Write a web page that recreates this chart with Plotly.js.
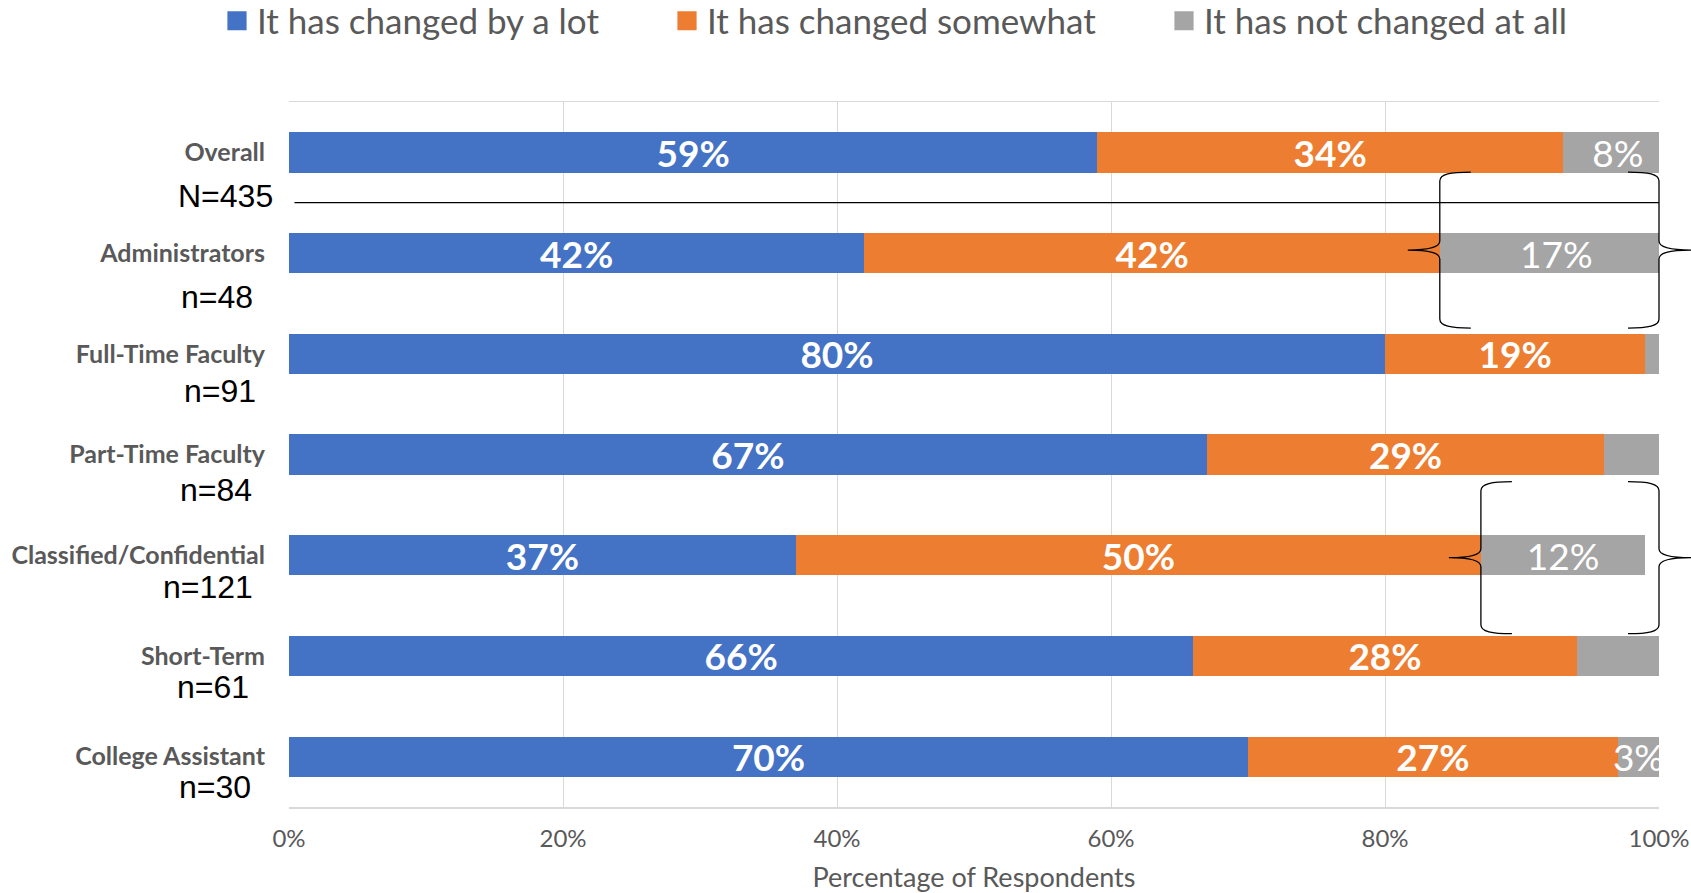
<!DOCTYPE html>
<html><head><meta charset="utf-8">
<script src="https://cdn.plot.ly/plotly-3.0.1.min.js"></script>
<style>html,body{margin:0;padding:0;background:#fff;overflow:hidden;} #chart{width:1691px;height:893px;}</style>
</head><body><div id="chart"></div>
<script>
// ---------------- data ----------------
const categories = ['Overall','Administrators','Full-Time Faculty','Part-Time Faculty','Classified/Confidential','Short-Term','College Assistant'];
const sampleSizes = ['N=435','n=48','n=91','n=84','n=121','n=61','n=30'];
const seriesNames = ['It has changed by a lot','It has changed somewhat','It has not changed at all'];
const changedALot = [59,42,80,67,37,66,70];
const changedSomewhat = [34,42,19,29,50,28,27];
const notChanged = [8,17,1,4,12,6,3];
const showNotChangedLabel = [true,true,false,false,true,false,true];
const bracketedRows = ['Administrators','Classified/Confidential'];
const xTickVals = [0,20,40,60,80,100];
const xTickText = ['0%','20%','40%','60%','80%','100%'];

// ---------------- style ----------------
const FONT = 'Lato, "Open Sans", sans-serif';
const colors = ['#4472C4','#ED7D31','#A5A5A5'];
const W = 1691, H = 893;
const M = {l:289, r:32, t:102, b:86};
const nLabelRight = [275,255,258,254,255,251,253];
const nLabelDrop = [44,44,37,35,32,31,30];
const legendX = [217,667,1164];
const legendNames = ['legend','legend2','legend3'];
const braceLift = [3,-2.5];
const braceHalf = [78,76];

const pct = v => v + '%';
function barTrace(k, vals, texts, weight) {
  return {
    type:'bar', orientation:'h', name:seriesNames[k], y:categories, x:vals, legend:legendNames[k],
    marker:{color:colors[k], line:{width:0}},
    text:texts, texttemplate:'%{text}', textposition:'inside', insidetextanchor:'middle',
    constraintext:'none', cliponaxis:true,
    textfont:{family:FONT, size:37, color:'#ffffff', weight:weight},
    hoverinfo:'skip'
  };
}
const traces = [
  barTrace(0, changedALot, changedALot.map(pct), 700),
  barTrace(1, changedSomewhat, changedSomewhat.map(pct), 700),
  barTrace(2, notChanged, notChanged.map((v,i)=> showNotChangedLabel[i] ? pct(v) : ''), 400)
];

const annotations = sampleSizes.map((s,i)=>({
  text:s, xref:'paper', x:0, xanchor:'right', xshift:nLabelRight[i]-M.l,
  yref:'y', y:categories[i], yanchor:'middle', yshift:-nLabelDrop[i],
  showarrow:false, font:{family:'"Liberation Sans", Arial, sans-serif', size:32, color:'#000000'}
}));

function bracePath(s, h, L, T, dy) {
  const y = v => v + dy;
  return `M ${-s*L},${y(h)} C ${-s*L*0.35},${y(h)} 0,${y(h-2)} 0,${y(h-9)} L 0,${y(9)} C 0,${y(3)} ${s*T*0.3},${y(0)} ${s*T},${y(0)} ` +
         `M 0,${y(-9)} C 0,${y(-3)} ${s*T*0.3},${y(0)} ${s*T},${y(0)} M 0,${y(-9)} L 0,${y(-h+9)} C 0,${y(-h+2)} ${-s*L*0.35},${y(-h)} ${-s*L},${y(-h)}`;
}
const shapes = [{
  type:'line', xref:'x', yref:'y', x0:0.4, x1:100, y0:0.5, y1:0.5,
  line:{color:'#000000', width:1.2}, layer:'above'
}];
bracketedRows.forEach((name,b)=>{
  const i = categories.indexOf(name);
  const yp = 1 - (i+0.5)/categories.length;
  const xl = (changedALot[i]+changedSomewhat[i])/100;
  [[xl,-1],[1,1]].forEach(([xa,s])=>{
    shapes.push({type:'path', xref:'paper', yref:'paper', xsizemode:'pixel', ysizemode:'pixel',
      xanchor:xa, yanchor:yp, path:bracePath(s,braceHalf[b],31,32,braceLift[b]),
      line:{color:'#000000', width:1.3}, layer:'above'});
  });
});

const layout = {
  width:W, height:H, margin:M, paper_bgcolor:'#fff', plot_bgcolor:'#fff',
  barmode:'stack', bargap:0.6, font:{family:FONT, color:'#595959'},
  showlegend:true,
  xaxis:{range:[0,100], tickvals:xTickVals, ticktext:xTickText, showgrid:true, gridcolor:'#d9d9d9', gridwidth:1,
    zeroline:false, showline:true, mirror:true, linecolor:'#d9d9d9', linewidth:1.5, ticks:'', ticklabelstandoff:10,
    tickfont:{family:FONT, size:24, color:'#595959'},
    title:{text:'Percentage of Respondents', font:{family:FONT, size:27, color:'#595959'}, standoff:17}, fixedrange:true},
  yaxis:{type:'category', range:[categories.length-0.5,-0.5], showgrid:false, zeroline:false, showline:false, ticks:'',
    ticklabelstandoff:23, tickfont:{family:FONT, size:25, color:'#595959', weight:700}, fixedrange:true},
  annotations:annotations, shapes:shapes
};
legendNames.forEach((ln,k)=>{
  layout[ln] = {orientation:'h', xref:'container', yref:'container', x:legendX[k]/W, xanchor:'left',
    y:1-21/H, yanchor:'middle', font:{family:FONT, size:35, color:'#595959'}, bgcolor:'rgba(0,0,0,0)'};
});
Plotly.newPlot('chart', traces, layout, {displayModeBar:false, staticPlot:true}).then(gd=>{
  gd.querySelectorAll('.legendpoints path').forEach(p=>{
    const t = p.getAttribute('transform') || '';
    p.setAttribute('transform', (t + ' scale(1.6)').trim());
  });
});
</script></body></html>
